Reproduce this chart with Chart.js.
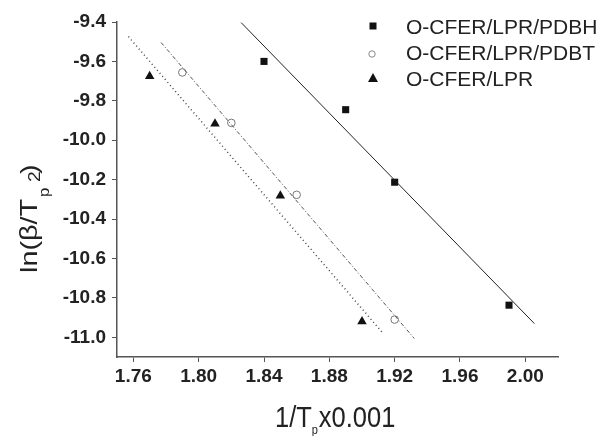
<!DOCTYPE html>
<html>
<head>
<meta charset="utf-8">
<script src="https://cdn.jsdelivr.net/npm/chart.js@4.4.0/dist/chart.umd.min.js"></script>
<style>
html, body { margin: 0; padding: 0; background: #fff; }
#plot { display: block; }
</style>
</head>
<body>
<canvas id="plot" width="600" height="436"></canvas>
<script>
const xTicks = [1.76, 1.80, 1.84, 1.88, 1.92, 1.96, 2.00]
const yTicks = [-9.4, -9.6, -9.8, -10.0, -10.2, -10.4, -10.6, -10.8, -11.0]

const seriesNames = ['O-CFER/LPR/PDBH', 'O-CFER/LPR/PDBT', 'O-CFER/LPR']

// measured points
const pdbhX = [1.84, 1.89, 1.92, 1.99]
const pdbhY = [-9.60, -9.845, -10.213, -10.837]
const pdbtX = [1.79, 1.82, 1.86, 1.92]
const pdbtY = [-9.656, -9.912, -10.277, -10.910]
const lprX = [1.77, 1.81, 1.85, 1.90]
const lprY = [-9.675, -9.916, -10.282, -10.920]

// fitted lines (end points)
const pdbhFitX = [1.826, 2.0055]
const pdbhFitY = [-9.403, -10.930]
const pdbtFitX = [1.777, 1.932]
const pdbtFitY = [-9.504, -11.006]
const lprFitX = [1.757, 1.913]
const lprFitY = [-9.474, -10.981]

const toXY = (xs, ys) => xs.map((x, i) => ({ x: x, y: ys[i] }))

const fontName = "'Liberation Sans', Arial, sans-serif"

const fitLine = (xs, ys, dash, color, width) => ({
    data: toXY(xs, ys),
    showLine: true,
    borderColor: color,
    borderWidth: width,
    borderDash: dash,
    pointRadius: 0,
    fill: false,
})

// axis titles and legend
const decorPlugin = {
    id: 'decor',
    afterDraw(chart) {
        const ctx = chart.ctx
        ctx.save()
        ctx.fillStyle = '#222'
        ctx.textBaseline = 'alphabetic'

        // x title: 1/Tp x0.001
        ctx.save()
        ctx.translate(275, 427)
        ctx.scale(0.85, 1)
        ctx.font = `30px ${fontName}`
        ctx.fillText('1/T', 0, 0)
        let w = ctx.measureText('1/T').width
        ctx.font = `13px ${fontName}`
        ctx.fillText('p', w, 7)
        w += ctx.measureText('p').width + 1
        ctx.font = `30px ${fontName}`
        ctx.fillText('x0.001', w, 0)
        ctx.restore()

        // y title: ln(β/Tp²)
        ctx.save()
        ctx.translate(37, 273)
        ctx.rotate(-Math.PI / 2)
        ctx.scale(1.2, 1)
        ctx.font = `24px ${fontName}`
        ctx.fillText('ln(β/T', 0, 0)
        ctx.font = `14px ${fontName}`
        ctx.fillText('p', 76 / 1.2, 12)
        ctx.font = `16px ${fontName}`
        ctx.fillText('2', 91 / 1.2, 3)
        ctx.font = `24px ${fontName}`
        ctx.fillText(')', 99 / 1.2, 0)
        ctx.restore()

        // legend
        const mx = 373
        const tx = 406
        const rows = [26, 52, 78]
        ctx.font = `21px ${fontName}`
        seriesNames.forEach((name, i) => {
            ctx.fillStyle = '#222'
            ctx.fillText(name, tx, rows[i] + 8)
        })
        ctx.fillStyle = '#111'
        ctx.fillRect(mx - 3.5, rows[0] - 3.5, 7, 7)
        ctx.strokeStyle = '#888'
        ctx.lineWidth = 1
        ctx.beginPath()
        ctx.arc(mx - 1, rows[1] + 2, 3.2, 0, Math.PI * 2)
        ctx.stroke()
        ctx.beginPath()
        ctx.moveTo(mx, rows[2] - 5)
        ctx.lineTo(mx + 5, rows[2] + 4)
        ctx.lineTo(mx - 5, rows[2] + 4)
        ctx.closePath()
        ctx.fill()
        ctx.restore()
    }
}

const axisCommon = {
    type: 'linear',
    grid: {
        display: true,
        drawOnChartArea: false,
        drawTicks: true,
        tickLength: 5,
        color: '#555',
        lineWidth: 1,
    },
    border: { display: true, color: '#555', width: 1.5 },
}

new Chart(document.getElementById('plot'), {
    type: 'scatter',
    data: {
        datasets: [
            fitLine(pdbhFitX, pdbhFitY, [], '#222', 1),
            fitLine(pdbtFitX, pdbtFitY, [4, 2, 1, 2], '#555', 1),
            fitLine(lprFitX, lprFitY, [1, 3], '#444', 1.5),
            {
                label: seriesNames[0],
                data: toXY(pdbhX, pdbhY),
                pointStyle: 'rect',
                pointRadius: 5,
                backgroundColor: '#111',
                borderColor: '#111',
                borderWidth: 0,
            },
            {
                label: seriesNames[1],
                data: toXY(pdbtX, pdbtY),
                pointStyle: 'circle',
                pointRadius: 3.8,
                backgroundColor: 'rgba(0,0,0,0)',
                borderColor: '#777',
                borderWidth: 1,
            },
            {
                label: seriesNames[2],
                data: toXY(lprX, lprY),
                pointStyle: 'triangle',
                pointRadius: 5.5,
                backgroundColor: '#111',
                borderColor: '#111',
                borderWidth: 0,
            },
        ]
    },
    options: {
        responsive: false,
        animation: false,
        devicePixelRatio: 1,
        layout: { padding: { top: 22, right: 42, left: 0, bottom: 0 } },
        plugins: {
            legend: { display: false },
            tooltip: { enabled: false },
        },
        scales: {
            x: {
                ...axisCommon,
                min: 1.75,
                max: 2.02,
                afterBuildTicks: (scale) => { scale.ticks = xTicks.map(v => ({ value: v })) },
                afterFit: (scale) => { scale.height = 79 },
                ticks: {
                    callback: (v) => Number(v).toFixed(2),
                    font: { family: fontName, size: 19, weight: 'bold' },
                    color: '#222',
                    padding: 3,
                    maxRotation: 0,
                },
            },
            y: {
                ...axisCommon,
                min: -11.1,
                max: -9.4,
                afterBuildTicks: (scale) => { scale.ticks = yTicks.map(v => ({ value: v })) },
                afterFit: (scale) => { scale.width = 117 },
                ticks: {
                    callback: (v) => Number(v).toFixed(1),
                    font: { family: fontName, size: 19, weight: 'bold' },
                    color: '#222',
                    padding: 6,
                },
            },
        },
    },
    plugins: [decorPlugin],
})
</script>
</body>
</html>
